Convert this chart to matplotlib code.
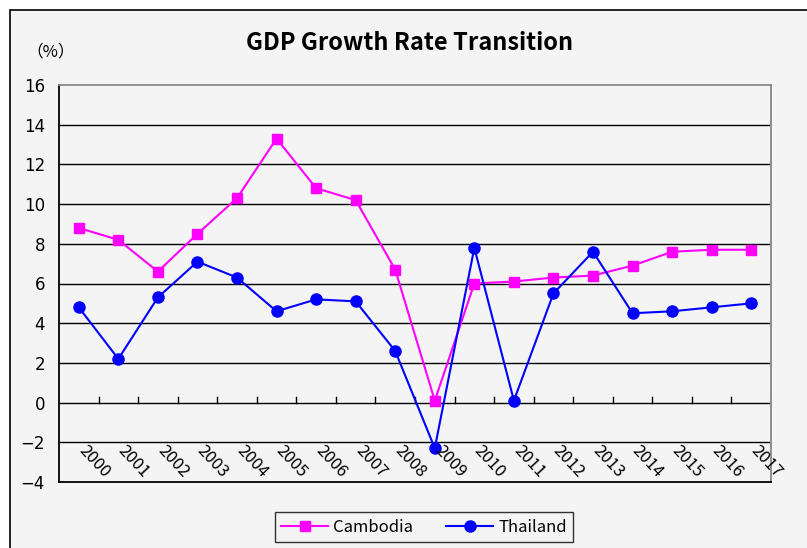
import matplotlib
matplotlib.use("Agg")
from matplotlib import pyplot as plt
from matplotlib.patches import Rectangle

plt.rcParams["font.family"] = ["Noto Sans CJK JP", "DejaVu Sans"]

years = [str(y) for y in range(2000, 2018)]
cambodia = [8.8, 8.2, 6.6, 8.5, 10.3, 13.3, 10.8, 10.2, 6.7, 0.1,
            6.0, 6.1, 6.3, 6.4, 6.9, 7.6, 7.7, 7.7]
thailand = [4.8, 2.2, 5.3, 7.1, 6.3, 4.6, 5.2, 5.1, 2.6, -2.3,
            7.8, 0.1, 5.5, 7.6, 4.5, 4.6, 4.8, 5.0]
y_ticks = list(range(-4, 18, 2))

fig = plt.figure(figsize=(8.07, 5.48), dpi=100)
fig.patch.set_facecolor("white")
# chart area (cropped at right/bottom in the original)
fig.add_artist(Rectangle((10 / 807, -0.1), 1.2, 1.1 - 10 / 548,
                         transform=fig.transFigure, facecolor="#f4f4f4",
                         edgecolor="black", linewidth=1.2, zorder=-1))

ax = fig.add_axes([59 / 807, 66 / 548, 712 / 807, 397 / 548])
ax.set_facecolor("#f4f4f4")

x = list(range(len(years)))
ax.plot(x, cambodia, color="#ff00ff", marker="s", markersize=7, linewidth=1.5, label="Cambodia", zorder=3)
ax.plot(x, thailand, color="#0000ff", marker="o", markersize=8, linewidth=1.5, label="Thailand", zorder=3)

ax.set_xlim(-0.5, len(years) - 0.5)
ax.set_ylim(-4, 16)
ax.set_yticks(y_ticks)
ax.set_yticklabels([str(v).replace("-", "\u2212") for v in y_ticks], fontsize=12,
                   family=["DejaVu Sans"])
ax.tick_params(axis="y", length=0, pad=10)
ax.set_xticks([])

for v in y_ticks[1:-1]:
    ax.axhline(v, color="black", linewidth=1.0, zorder=1)

# category axis at 0 with inside ticks between categories
for k in range(1, len(years) + 1):
    ax.plot([k - 0.5, k - 0.5], [0, 0.3], color="black", linewidth=1.0, zorder=1)

for i, yr in enumerate(years):
    ax.text(i + 0.22, -1.98, yr, rotation=-47, rotation_mode="anchor",
            ha="left", va="top", fontsize=12)

ax.spines["left"].set_color("black")
ax.spines["bottom"].set_color("black")
ax.spines["top"].set_color("#888888")
ax.spines["right"].set_color("#888888")
for s in ax.spines.values():
    s.set_linewidth(1.3)

fig.text(410 / 807, 1 - 43 / 548, "GDP Growth Rate Transition", ha="center", va="center",
         fontsize=17, fontweight="bold")
fig.text(26 / 807, 1 - 52 / 548, "（%）", ha="left", va="center", fontsize=12)

leg = fig.legend(loc="center", bbox_to_anchor=(424 / 807, 1 - 527 / 548), ncol=2,
                 fontsize=12, frameon=True, fancybox=False, edgecolor="black",
                 facecolor="#f4f4f4", handlelength=2.8, handletextpad=0.3,
                 columnspacing=2.0)
leg.get_frame().set_linewidth(1.0)

plt.savefig("out.png", dpi=100)
